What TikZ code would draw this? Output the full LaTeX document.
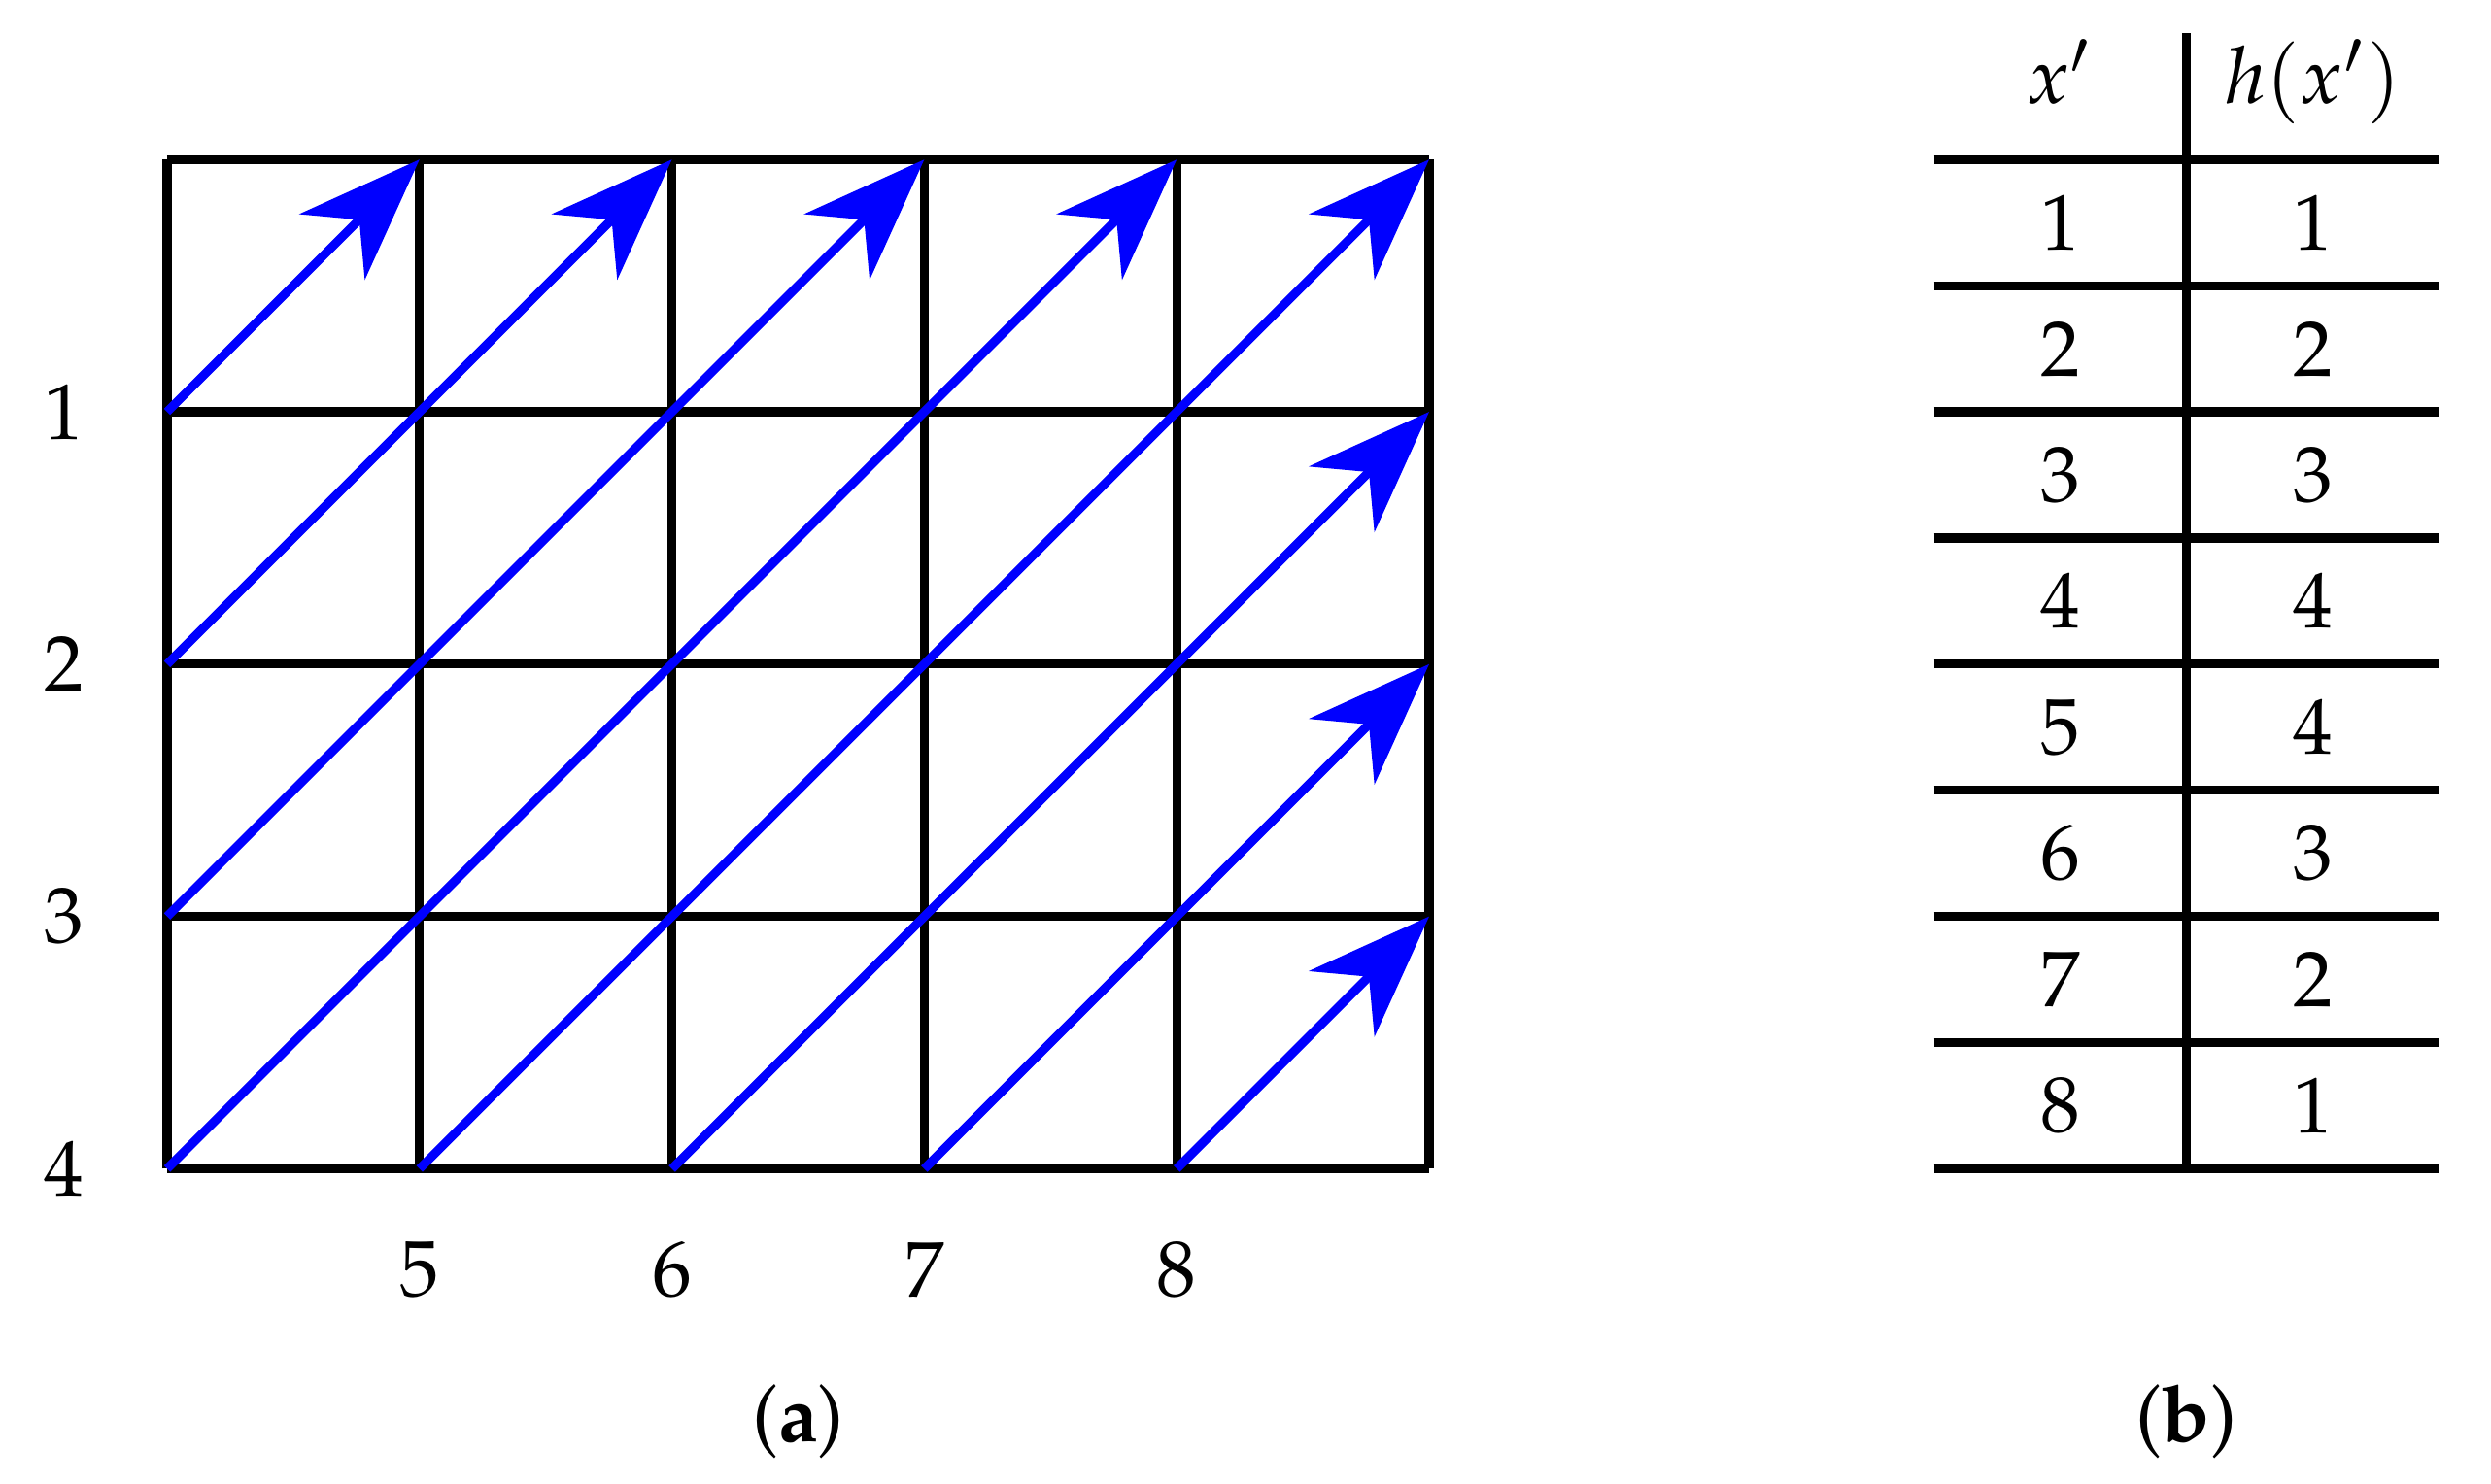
\documentclass[tikz,border=0pt]{standalone}
\usepackage[T1]{fontenc}
\usepackage{mathpazo}
\usetikzlibrary{arrows.meta, positioning}
\tikzset{gridline/.style={line width=1pt}}
\tikzset{diag/.style={blue, line width=1pt, -{Stealth[length=13.9pt, width=10.4pt, inset=4.3pt]}}}
\tikzset{lab/.style={font=\fontsize{8.9}{11}\selectfont, inner sep=0pt}}

\begin{document}
\begin{tikzpicture}[scale = 1]
  \useasboundingbox (-0.662,-1.249) rectangle (9.207,4.632);

  \draw[gridline] (0,0) grid (5,4);
  \foreach \i in {0,...,5}
    \foreach \j in {0,...,4}
      \coordinate (g\i\j) at (\i,\j);

  \draw[diag] (g03) -- (g14);
  \draw[diag] (g02) -- (g24);
  \draw[diag] (g01) -- (g34);
  \draw[diag] (g00) -- (g44);
  \draw[diag] (g10) -- (g54);
  \draw[diag] (g20) -- (g53);
  \draw[diag] (g30) -- (g52);
  \draw[diag] (g40) -- (g51);

  \foreach \n/\y in {1/3,2/2,3/1,4/0}
    \node[lab] (row\n) at (-0.41,\y) {\n};
  \foreach \n/\x in {5/1,6/2,7/3,8/4}
    \node[lab] (col\n) at (\x,-0.40) {\n};

  \draw[gridline] (8,0) -- (8,4.5);
  \foreach \k in {0,...,8}
    \draw[gridline] (7,\k/2) -- (9,\k/2);

  \node[lab, anchor=base] (xhead) at (7.5,4.224) {$x'$};
  \node[lab, anchor=base] (hhead) at (8.5,4.224) {$h(x')$};
  \foreach \n/\v [count=\k] in {1/1,2/2,3/3,4/4,5/4,6/3,7/2,8/1} {
    \node[lab] (x\n) at (7.5,4.25-\k/2) {\n};
    \node[lab] (h\n) at (8.5,4.25-\k/2) {\v};
  }

  \node[lab] (capa) at (2.5,-1) {(\textbf{a})};
  \node[lab] (capb) at (8,-1) {(\textbf{b})};
\end{tikzpicture}
\end{document}
